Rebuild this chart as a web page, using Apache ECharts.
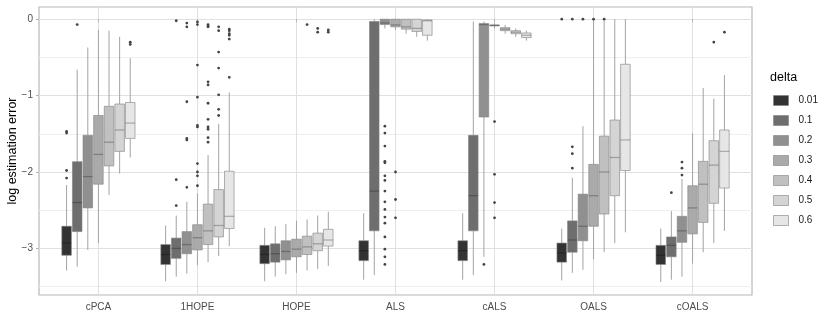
<!DOCTYPE html>
<html>
<head>
<meta charset="utf-8">
<script src="https://cdn.jsdelivr.net/npm/echarts@6/dist/echarts.min.js"></script>
<style>
  html, body { margin: 0; padding: 0; background: #fff; }
  #chart { width: 830px; height: 332px; }
</style>
</head>
<body>
<div id="chart"></div>
<script>
// methods on the x axis, delta groups as fill
var methods = ["cPCA", "1HOPE", "HOPE", "ALS", "cALS", "OALS", "cOALS"];
var deltas = ["0.01", "0.1", "0.2", "0.3", "0.4", "0.5", "0.6"];
var greys = ["#333333", "#6e6e6e", "#909090", "#aaaaaa", "#c0c0c0", "#d4d4d4", "#e6e6e6"];
var yTicks = [-3, -2, -1, 0];
var yMinorTicks = [-3.5, -2.5, -1.5, -0.5];

// box stats per delta, one row per method: [lower whisker, q1, median, q3, upper whisker]
var box001 = [[-3.29, -3.09, -2.93, -2.71, -2.17], [-3.43, -3.21, -3.08, -2.95, -2.70], [-3.43, -3.20, -3.08, -2.96, -2.73],
  [-3.41, -3.16, -3.03, -2.90, -2.54], [-3.41, -3.16, -3.03, -2.90, -2.54], [-3.42, -3.18, -3.06, -2.93, -2.74], [-3.44, -3.21, -3.09, -2.96, -2.74]];
var box01 = [[-3.24, -2.78, -2.40, -1.865, -0.66], [-3.37, -3.13, -3.00, -2.865, -2.57], [-3.37, -3.18, -3.07, -2.94, -2.71],
  [-3.35, -2.77, -2.25, -0.03, 0.0], [-3.35, -2.77, -2.31, -1.52, -0.03], [-3.32, -3.05, -2.89, -2.64, -2.075], [-3.41, -3.11, -2.96, -2.85, -2.51]];
var box02 = [[-3.02, -2.47, -2.06, -1.52, -0.37], [-3.33, -3.07, -2.95, -2.78, -2.39], [-3.34, -3.15, -3.04, -2.90, -2.68],
  [-0.12, -0.07, -0.05, 0.0, 0.0], [-3.11, -1.28, -0.07, -0.055, -0.03], [-3.28, -2.90, -2.71, -2.29, -1.40], [-3.37, -2.92, -2.77, -2.58, -2.09]];
var box03 = [[-2.93, -2.16, -1.77, -1.26, -0.14], [-3.22, -3.02, -2.86, -2.69, -2.28], [-3.32, -3.11, -3.01, -2.88, -2.64],
  [-0.14, -0.10, -0.075, 0.0, 0.0], [-0.12, -0.085, -0.08, -0.075, -0.05], [-3.14, -2.71, -2.31, -1.90, -0.02], [-3.20, -2.81, -2.47, -2.18, -1.49]];
var box04 = [[-2.30, -1.92, -1.61, -1.14, -0.15], [-3.18, -2.95, -2.77, -2.42, -1.78], [-3.29, -3.08, -2.98, -2.84, -2.62],
  [-0.19, -0.13, -0.10, 0.0, 0.0], [-0.19, -0.15, -0.13, -0.11, -0.075], [-3.05, -2.55, -2.00, -1.53, -0.02], [-3.05, -2.66, -2.16, -1.86, -0.90]];
var box05 = [[-2.02, -1.73, -1.45, -1.11, -0.23], [-3.10, -2.85, -2.70, -2.23, -1.37], [-3.27, -3.03, -2.94, -2.80, -2.57],
  [-0.23, -0.16, -0.12, 0.0, 0.0], [-0.23, -0.19, -0.17, -0.15, -0.12], [-2.93, -2.31, -1.81, -1.32, 0.0], [-2.93, -2.41, -1.91, -1.59, -1.04]];
var box06 = [[-1.81, -1.56, -1.36, -1.09, -0.51], [-2.97, -2.74, -2.58, -1.99, -0.96], [-3.23, -2.97, -2.89, -2.75, -2.52],
  [-0.28, -0.21, -0.02, -0.01, 0.0], [-0.28, -0.24, -0.21, -0.18, -0.15], [-2.79, -1.98, -1.58, -0.59, 0.0], [-2.77, -2.21, -1.73, -1.45, -0.73]];

// outliers per delta: [method index, value]
var out001 = [[0, -2.08], [0, -1.98], [0, -1.49], [0, -1.47], [5, 0.0]];
var out01 = [[0, -0.07], [1, -2.44], [1, -2.10], [1, -0.02], [5, -1.67], [5, -1.76], [5, -1.95], [5, 0.0], [6, -2.27]];
var out02 = [[1, -1.08], [1, -1.56], [1, -1.58], [1, -0.05], [1, -0.10], [1, -2.20],
  [3, -1.40], [3, -1.49], [3, -1.66], [3, -1.86], [3, -1.88], [3, -2.05], [3, -2.11], [3, -2.25], [3, -2.39],
  [3, -2.49], [3, -2.59], [3, -2.67], [3, -2.85], [3, -3.01], [3, -3.11], [3, -3.21],
  [4, -3.21], [5, 0.0], [6, -1.87], [6, -1.95], [6, -2.04]];
var out03 = [[1, -1.89], [1, -2.00], [1, -2.05], [1, -2.18], [1, -0.035], [1, -0.07], [1, -0.60], [1, -1.02], [1, -1.39], [1, -1.41],
  [3, -2.00], [3, -2.36], [3, -2.60], [4, -1.34], [4, -2.03], [4, -2.40], [4, -2.60], [5, 0.0]];
var out04 = [[1, -0.07], [1, -0.09], [1, -0.10], [1, -0.82], [1, -0.86], [1, -1.10], [1, -1.31], [1, -1.41], [1, -1.44],
  [1, -1.55], [1, -1.61], [2, -0.07], [5, 0.0]];
var out05 = [[1, -0.10], [1, -0.15], [1, -0.43], [1, -0.64], [1, -0.99], [1, -1.18], [1, -1.26], [2, -0.12], [2, -0.17], [6, -0.30]];
var out06 = [[0, -0.30], [0, -0.33], [1, -0.13], [1, -0.15], [1, -0.19], [1, -0.21], [1, -0.26], [1, -0.76], [2, -0.14], [2, -0.17], [6, -0.17]];

var boxes = [box001, box01, box02, box03, box04, box05, box06];
var outliers = [out001, out01, out02, out03, out04, out05, out06];

var dodge = 0.75 / 7;
var halfBox = dodge * 0.9 / 2;
var font = "Liberation Sans, Arial, sans-serif";

function boxRenderer(j) {
    return function (params, api) {
        var x = api.value(0) + (j - 3) * dodge;
        var pLow = api.coord([x, api.value(1)]);
        var pQ1 = api.coord([x - halfBox, api.value(2)]);
        var pMed = api.coord([x - halfBox, api.value(3)]);
        var pQ3 = api.coord([x + halfBox, api.value(4)]);
        var pHigh = api.coord([x, api.value(5)]);
        var w = pQ3[0] - pQ1[0];
        return {
            type: "group",
            children: [
                { type: "line", shape: { x1: pLow[0], y1: pLow[1], x2: pLow[0], y2: pQ1[1] }, style: { stroke: "#a3a3a3", lineWidth: 1 } },
                { type: "line", shape: { x1: pHigh[0], y1: pHigh[1], x2: pHigh[0], y2: pQ3[1] }, style: { stroke: "#a3a3a3", lineWidth: 1 } },
                { type: "rect", shape: { x: pQ1[0], y: pQ3[1], width: w, height: Math.max(pQ1[1] - pQ3[1], 1) },
                  style: { fill: greys[j], stroke: "rgba(128,128,128,0.6)", lineWidth: 1 } },
                { type: "line", shape: { x1: pMed[0], y1: pMed[1], x2: pMed[0] + w, y2: pMed[1] }, style: { stroke: "rgba(0,0,0,0.25)", lineWidth: 1.3 } }
            ]
        };
    };
}

function pointRenderer(j) {
    return function (params, api) {
        var p = api.coord([api.value(0) + (j - 3) * dodge, api.value(1)]);
        return { type: "circle", shape: { cx: p[0], cy: p[1], r: 1.4 }, style: { fill: "#444" } };
    };
}

var series = [];
for (var j = 0; j < deltas.length; j++) {
    var rows = [];
    for (var i = 0; i < methods.length; i++) {
        rows.push([i + 1].concat(boxes[j][i]));
    }
    series.push({
        name: deltas[j],
        type: "custom",
        renderItem: boxRenderer(j),
        itemStyle: { color: greys[j] },
        encode: { x: 0, y: [1, 2, 3, 4, 5] },
        data: rows,
        z: 2
    });
}
for (var j = 0; j < deltas.length; j++) {
    var pts = [];
    for (var k = 0; k < outliers[j].length; k++) {
        pts.push([outliers[j][k][0] + 1, outliers[j][k][1]]);
    }
    series.push({
        type: "custom",
        renderItem: pointRenderer(j),
        encode: { x: 0, y: 1 },
        data: pts,
        z: 3
    });
}

var chart = echarts.init(document.getElementById("chart"));
chart.setOption({
    animation: false,
    backgroundColor: "#ffffff",
    title: {
        text: "delta",
        left: 770,
        top: 71,
        padding: 0,
        textStyle: { fontFamily: font, fontSize: 12.5, fontWeight: "normal", color: "#000" }
    },
    legend: {
        data: deltas,
        orient: "vertical",
        left: 773,
        top: 95,
        padding: 0,
        itemWidth: 15,
        itemHeight: 10,
        itemGap: 9,
        icon: "rect",
        itemStyle: { borderColor: "rgba(128,128,128,0.6)", borderWidth: 1 },
        textStyle: { fontFamily: font, fontSize: 10, color: "#1a1a1a", padding: [0, 0, 0, 5] },
        selectedMode: false
    },
    grid: {
        left: 39, top: 7, width: 713, height: 288,
        outerBoundsMode: "none",
        containLabel: false,
        show: true, borderColor: "#b8b8b8", borderWidth: 1.2, backgroundColor: "transparent"
    },
    xAxis: {
        type: "value",
        min: 0.4,
        max: 7.6,
        axisLine: { show: false },
        axisTick: { show: true, length: 3, customValues: [1, 2, 3, 4, 5, 6, 7], lineStyle: { color: "#b3b3b3" } },
        axisLabel: {
            customValues: [1, 2, 3, 4, 5, 6, 7],
            margin: 7,
            fontFamily: font, fontSize: 10, color: "#4d4d4d",
            formatter: function (v) { return methods[Math.round(v) - 1]; }
        },
        splitLine: { show: true, lineStyle: { color: "#e0e0e0", width: 1 } }
    },
    yAxis: [{
        type: "value",
        min: -3.61,
        max: 0.16,
        name: "log estimation error",
        nameLocation: "middle",
        nameGap: 20,
        nameMoveOverlap: false,
        nameTextStyle: { fontFamily: font, fontSize: 12.5, color: "#000" },
        axisLine: { show: false },
        axisTick: { show: true, length: 3, customValues: yTicks, lineStyle: { color: "#b3b3b3" } },
        axisLabel: {
            customValues: yTicks,
            margin: 6,
            fontFamily: font, fontSize: 10, color: "#4d4d4d",
            formatter: function (v) { return v < 0 ? "\u2212" + Math.abs(v) : String(v); }
        },
        splitLine: { show: true, lineStyle: { color: "#e0e0e0", width: 1 } }
    }, {
        type: "value",
        min: -3.61,
        max: 0.16,
        position: "left",
        axisLine: { show: false },
        axisTick: { show: false, customValues: yMinorTicks },
        axisLabel: { show: false, customValues: yMinorTicks },
        splitLine: { show: true, lineStyle: { color: "#efefef", width: 1 } }
    }],
    series: series
});
</script>
</body>
</html>
